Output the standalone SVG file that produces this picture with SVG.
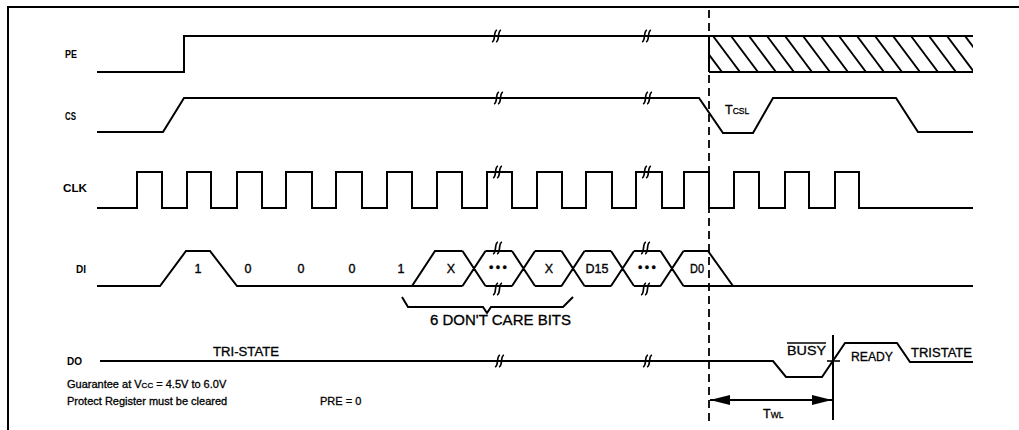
<svg xmlns="http://www.w3.org/2000/svg" xmlns:xlink="http://www.w3.org/1999/xlink" width="1019" height="430" viewBox="0 0 1019 430">
<style>
.sig{fill:none;stroke:#000;stroke-width:2;stroke-linejoin:miter}
.thin{fill:none;stroke:#000;stroke-width:1.6}
.hat{fill:none;stroke:#000;stroke-width:1.9}
.lbl{font-family:"Liberation Sans",Arial,sans-serif;font-size:11px;font-weight:bold;fill:#000}
.val{font-family:"Liberation Sans",Arial,sans-serif;font-size:12.5px;fill:#000;stroke:#000;stroke-width:0.35;text-anchor:middle}
.txt{font-family:"Liberation Sans",Arial,sans-serif;font-size:12.5px;fill:#000;stroke:#000;stroke-width:0.3}
.note{font-family:"Liberation Sans",Arial,sans-serif;font-size:11px;fill:#000;stroke:#000;stroke-width:0.3}
.sub{font-size:8.5px}
</style>
<defs>
<path id="brk" d="M-5,6 C-1,5 -4,-5 0,-6 M-1,6 C3,5 0,-5 4,-6" fill="none" stroke="#000" stroke-width="1.7"/>
<clipPath id="hclip"><rect x="709" y="36" width="264" height="36"/></clipPath>
<marker id="ah" viewBox="0 0 20 10" refX="20" refY="5" markerWidth="20" markerHeight="10" markerUnits="userSpaceOnUse" orient="auto-start-reverse"><path d="M0,0 L20,5 L0,10 Z" fill="#000"/></marker>
</defs>
<rect width="1019" height="430" fill="#fff"/>
<g id="frame"><path d="M8,430 V7 H1019" class="sig"/></g>

<g id="PE">
<text class="lbl" x="65" y="58" textLength="12" lengthAdjust="spacingAndGlyphs">PE</text>
<path class="sig" d="M97,72 H184 V36 H709"/>
<path class="sig" d="M709,36 H973 M709,72 H973 M709,36 V72"/>
<g clip-path="url(#hclip)" class="hat">
<path d="M695,36 l27,36 M713,36 l27,36 M731,36 l27,36 M749,36 l27,36 M767,36 l27,36 M785,36 l27,36 M803,36 l27,36 M821,36 l27,36 M839,36 l27,36 M857,36 l27,36 M875,36 l27,36 M893,36 l27,36 M911,36 l27,36 M929,36 l27,36 M947,36 l27,36 M965,36 l27,36"/>
</g>
<use xlink:href="#brk" href="#brk" x="497" y="36"/>
<use xlink:href="#brk" href="#brk" x="647" y="36"/>
</g>

<g id="CS">
<text class="lbl" x="65" y="120" textLength="11" lengthAdjust="spacingAndGlyphs">CS</text>
<path class="sig" d="M97,132 H163 L184,98 H699 L723,133 H753 L773,98 H896 L918,132 H973"/>
<text class="txt" x="725" y="114">T<tspan class="sub">CSL</tspan></text>
<use xlink:href="#brk" href="#brk" x="499" y="98"/>
<use xlink:href="#brk" href="#brk" x="648" y="98"/>
</g>

<g id="CLK">
<text class="lbl" x="63" y="192" textLength="24" lengthAdjust="spacingAndGlyphs">CLK</text>
<path class="sig" d="M97,208 H137 V172 H162 V208 H187 V172 H211 V208 H237 V172 H262 V208 H286 V172 H312 V208 H336 V172 H362 V208 H387 V172 H412 V208 H437 V172 H462 V208 H487 V172 H512 V208 H537 V172 H562 V208 H586 V172 H612 V208 H636 V172 H662 V208 H684 V172 H709 V208 H734 V172 H759 V208 H785 V172 H809 V208 H835 V172 H859 V208 H973"/>
<use xlink:href="#brk" href="#brk" x="498" y="172"/>
<use xlink:href="#brk" href="#brk" x="647" y="172"/>
</g>

<g id="DI">
<text class="lbl" x="76" y="273" textLength="10" lengthAdjust="spacingAndGlyphs">DI</text>
<path class="sig" d="M97,286 H160 L186,251 H210 L237,286 H462.5"/>
<path class="sig" d="M412,286 L435,251 H462.5"/>
<path class="sig" d="M462.5,251 L485.5,286 M462.5,286 L485.5,251 M485.5,251 H512 M485.5,286 H512 M512,251 L535,286 M512,286 L535,251 M535,251 H561.5 M535,286 H561.5 M561.5,251 L584.5,286 M561.5,286 L584.5,251 M584.5,251 H611 M584.5,286 H611 M611,251 L634,286 M611,286 L634,251 M634,251 H660.5 M634,286 H660.5 M660.5,251 L683.5,286 M660.5,286 L683.5,251 M683.5,251 H708 L733,286 M683.5,286 H973"/>
<text class="val" x="198" y="273">1</text>
<text class="val" x="248" y="273">0</text>
<text class="val" x="301" y="273">0</text>
<text class="val" x="352" y="273">0</text>
<text class="val" x="401" y="273">1</text>
<text class="val" x="451" y="273">X</text>
<text class="val" x="498" y="272" textLength="18">•••</text>
<text class="val" x="549" y="273">X</text>
<text class="val" x="597" y="273">D15</text>
<text class="val" x="647" y="272" textLength="18">•••</text>
<text class="val" x="697" y="273" textLength="14" lengthAdjust="spacingAndGlyphs">D0</text>
<use xlink:href="#brk" href="#brk" x="498" y="248"/>
<use xlink:href="#brk" href="#brk" x="498" y="289"/>
<use xlink:href="#brk" href="#brk" x="646" y="248"/>
<use xlink:href="#brk" href="#brk" x="646" y="289"/>
<path class="sig" d="M402,297 L408,307 H483 L487,313 L491,307 H563 L573,297"/>
<text class="txt" x="430" y="325" style="font-size:14px" textLength="141" lengthAdjust="spacingAndGlyphs">6 DON'T CARE BITS</text>
</g>

<g id="DO">
<text class="lbl" x="67" y="365" textLength="15" lengthAdjust="spacingAndGlyphs">DO</text>
<path class="sig" d="M100,361 H773 L786,377 H822 L845,343 H897 L910,362 H973"/>
<text class="txt" x="213" y="356" textLength="66" lengthAdjust="spacingAndGlyphs">TRI-STATE</text>
<use xlink:href="#brk" href="#brk" x="500" y="361"/>
<use xlink:href="#brk" href="#brk" x="648" y="361"/>
<text class="txt" x="787" y="355" textLength="39" lengthAdjust="spacingAndGlyphs">BUSY</text>
<path class="thin" d="M787,343 H826"/>
<text class="txt" x="851" y="361" textLength="42" lengthAdjust="spacingAndGlyphs">READY</text>
<text class="txt" x="911" y="357" textLength="61" lengthAdjust="spacingAndGlyphs">TRISTATE</text>
</g>

<g id="connectors">
<path d="M709,10 V425" fill="none" stroke="#000" stroke-width="1.8" stroke-dasharray="8 5"/>
<path class="sig" d="M833,335 V420"/>
<path class="thin" d="M827,361 H840"/>
<path d="M710,400 H832" fill="none" stroke="#000" stroke-width="2" marker-start="url(#ah)" marker-end="url(#ah)"/>
<text class="txt" x="763" y="418">T<tspan class="sub">WL</tspan></text>
</g>

<g id="notes">
<text class="note" x="67" y="388">Guarantee at V<tspan style="font-size:8px">CC</tspan> = 4.5V to 6.0V</text>
<text class="note" x="67" y="405">Protect Register must be cleared</text>
<text class="note" x="320" y="405">PRE = 0</text>
</g>
</svg>
